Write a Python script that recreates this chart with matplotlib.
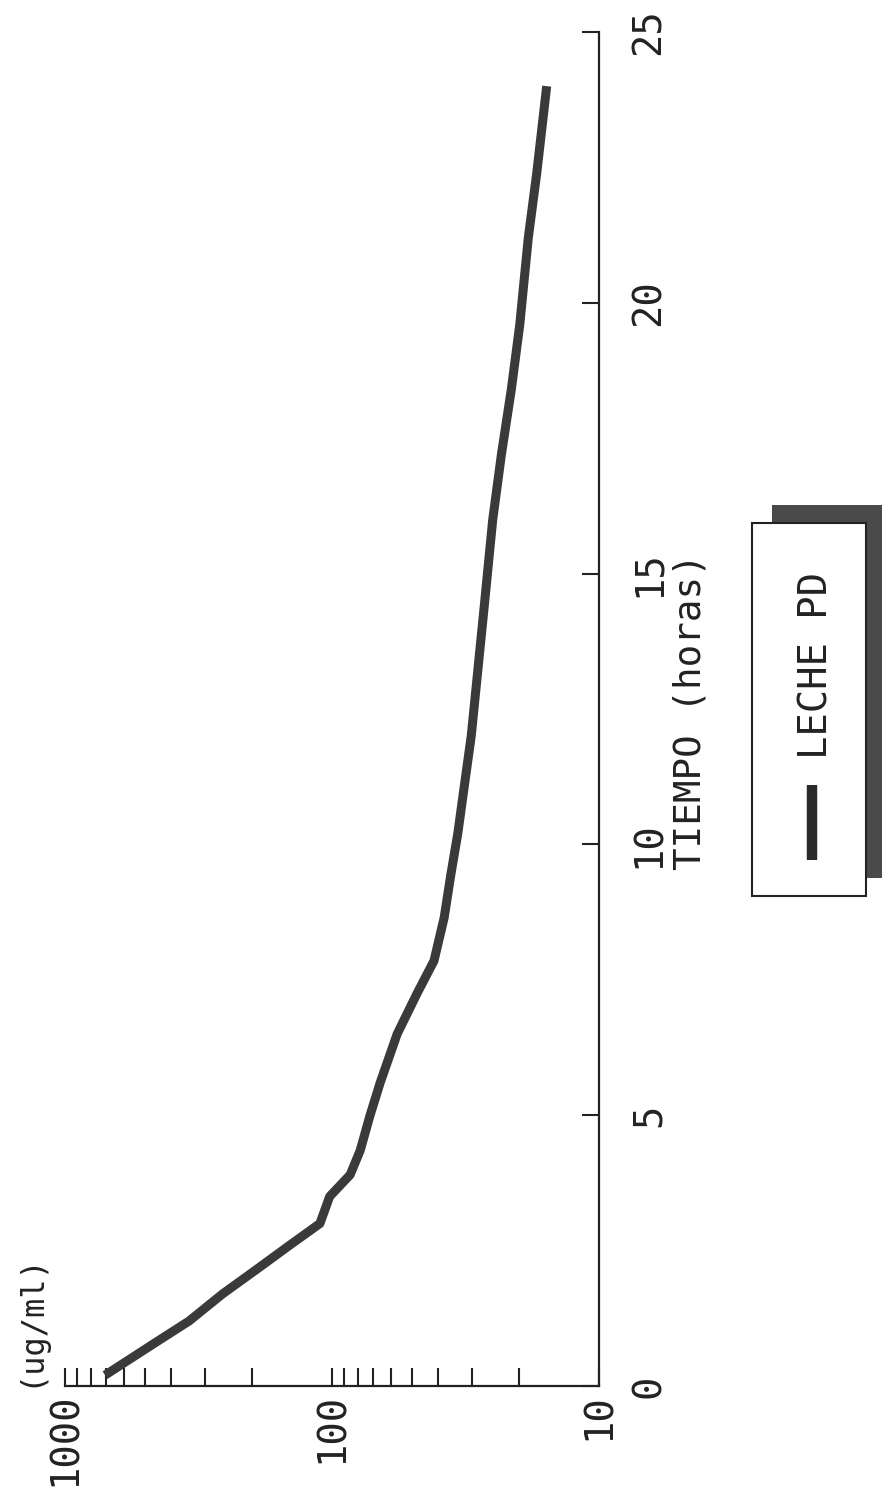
import matplotlib
matplotlib.use("Agg")
import matplotlib.pyplot as plt
from matplotlib.ticker import LogLocator, NullFormatter, FixedLocator
from matplotlib.patches import Rectangle
from matplotlib.lines import Line2D

# ---- data ----
tiempo_h = [0.2, 0.8, 1.2, 1.7, 2.15, 2.6, 3.0, 3.5, 3.9, 4.35, 5.0, 5.6,
            6.5, 7.25, 7.85, 8.65, 9.4, 10.2, 11.1, 12.0, 14.4, 16.0,
            17.2, 18.4, 19.6, 21.2, 22.4, 24.0]
conc_ugml = [708, 459, 343, 257, 192, 144, 111, 102, 85.5, 78.4, 72, 66,
             57, 48, 41.5, 38, 36, 33.8, 31.9, 30.1, 26.9, 25.0,
             23.2, 21.3, 19.8, 18.4, 17.1, 15.7]
time_ticks = [0, 5, 10, 15, 20, 25]
time_ticklabels = ["0", "5", "10", "15", "20", "25"]
conc_ticks = [1000, 100, 10]
conc_ticklabels = ["1000", "100", "10"]
series_name = "LECHE PD"
time_label = "TIEMPO (horas)"
conc_label = "(ug/ml)"

FONT = "DejaVu Sans Mono"
W, H = 882, 1506

fig = plt.figure(figsize=(W / 100, H / 100), dpi=100)
fig.patch.set_facecolor("white")

# axes (chart is drawn rotated 90 degrees: time runs upward, concentration leftward)
x0, x1 = 65, 599
y_top, y_bot = 32, 1386
ax = fig.add_axes([x0 / W, (H - y_bot) / H, (x1 - x0) / W, (y_bot - y_top) / H])
ax.set_xscale("log")
ax.set_xlim(1000, 10)
ax.set_ylim(0, 25)

ax.plot(conc_ugml, tiempo_h, color="#3a3a3a", lw=6.5, solid_capstyle="butt",
        solid_joinstyle="round")

for s in ["top", "left"]:
    ax.spines[s].set_visible(False)
for s in ["bottom", "right"]:
    ax.spines[s].set_linewidth(1.6)
    ax.spines[s].set_color("#222")

ax.yaxis.tick_right()
ax.yaxis.set_major_locator(FixedLocator(time_ticks))
ax.set_yticklabels(time_ticklabels)
ax.xaxis.set_major_locator(FixedLocator(conc_ticks))
ax.set_xticklabels(conc_ticklabels)
ax.xaxis.set_minor_locator(LogLocator(base=10, subs=range(2, 10)))
ax.xaxis.set_minor_formatter(NullFormatter())

ax.tick_params(axis="x", which="both", direction="in", length=13, width=1.5,
               pad=5, labelrotation=90, colors="#222")
ax.tick_params(axis="y", which="both", direction="in", length=12, width=1.5,
               pad=22, labelrotation=90, colors="#222")
for lab in ax.get_xticklabels() + ax.get_yticklabels():
    lab.set_fontfamily(FONT)
    lab.set_fontsize(28)
for lab in ax.get_yticklabels():
    lab.set_verticalalignment("center")

# axis titles
fig.text(691 / W, 1 - 712 / H, time_label, rotation=90, ha="center", va="center",
         fontfamily=FONT, fontsize=27, color="#222")
fig.text(30 / W, 1 - 1320 / H, conc_label, rotation=90, ha="center", va="center",
         fontfamily=FONT, fontsize=23, color="#222")

# legend box with shadow (drawn in figure pixels)
bx0, bx1, by0, by1 = 752, 866, 523, 896
dx, dy = 20, -18
shadow = Rectangle(((bx0 + dx) / W, (H - (by1 + dy)) / H), (bx1 - bx0) / W,
                   (by1 - by0) / H, transform=fig.transFigure, facecolor="#4a4a4a",
                   edgecolor="none", zorder=1)
box = Rectangle((bx0 / W, (H - by1) / H), (bx1 - bx0) / W, (by1 - by0) / H,
                transform=fig.transFigure, facecolor="white", edgecolor="#222",
                linewidth=1.5, zorder=2)
fig.patches.extend([shadow, box])
fig.lines.append(Line2D([812 / W, 812 / W], [1 - 785 / H, 1 - 860 / H],
                        transform=fig.transFigure, color="#2a2a2a", lw=7.5,
                        solid_capstyle="butt", zorder=3))
fig.text(816 / W, 1 - 665 / H, series_name, rotation=90, ha="center", va="center",
         fontfamily=FONT, fontsize=28, color="#222", zorder=3)

fig.savefig("out.png", dpi=100)
